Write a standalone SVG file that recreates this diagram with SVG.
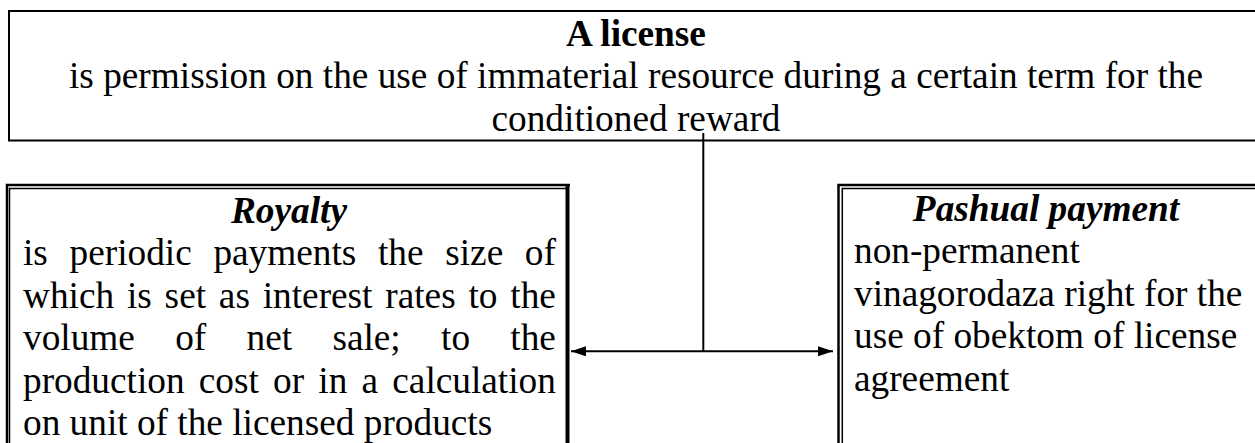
<svg xmlns="http://www.w3.org/2000/svg" width="1255" height="443" viewBox="0 0 1255 443">
<style>
text{font-family:"Liberation Serif","Times New Roman",serif;font-size:37.3px;fill:#000}
.b{font-weight:bold}
.bi{font-weight:bold;font-style:italic}
.c{text-anchor:middle}
.thk{fill:none;stroke:#000;stroke-width:2.5}
.thn{fill:none;stroke:#000;stroke-width:1.5}
.ln{fill:none;stroke:#000;stroke-width:2}
</style>
<defs>
<marker id="ah" viewBox="0 0 15 10" refX="15" refY="5" markerWidth="15" markerHeight="10" markerUnits="userSpaceOnUse" orient="auto-start-reverse">
<path d="M0,0 L15,5 L0,10 z" fill="#000"/>
</marker>
</defs>
<rect width="1255" height="443" fill="#fff"/>
<g id="license">
<rect x="9" y="11" width="1260" height="129.5" fill="none" stroke="#000" stroke-width="2"/>
<text class="b c" x="636" y="45.5">A license</text>
<text class="c" x="636" y="88">is permission on the use of immaterial resource during a certain term for the</text>
<text class="c" x="636" y="130.5">conditioned reward</text>
</g>
<g id="royalty">
<path class="thk" d="M7,445 V185 H570"/>
<path class="thn" d="M9.5,445 V188.5 H566"/>
<path d="M567.5,184 V445" stroke="#000" stroke-width="4" fill="none"/>
<text class="bi c" x="289" y="222.5">Royalty</text>
<text x="23" y="265" word-spacing="12.33">is periodic payments the size of</text>
<text x="23" y="307.5" word-spacing="3.47">which is set as interest rates to the</text>
<text x="23" y="350" word-spacing="30.97">volume of net sale; to the</text>
<text x="23" y="392.5" word-spacing="4.87">production cost or in a calculation</text>
<text x="23" y="435">on unit of the licensed products</text>
</g>
<g id="pashual">
<path class="thk" d="M838.5,445 V185 H1260"/>
<path class="thn" d="M842.3,445 V188.5 H1260"/>
<text class="bi c" x="1046" y="220.5">Pashual payment</text>
<text x="854" y="263">non-permanent</text>
<text x="854" y="305.5">vinagorodaza right for the</text>
<text x="854" y="348">use of obektom of license</text>
<text x="854" y="390.5">agreement</text>
</g>
<g id="connectors">
<path class="ln" d="M703.3,133 V351.3" stroke-width="1.7"/>
<path class="ln" d="M571,351.3 H833" marker-start="url(#ah)" marker-end="url(#ah)"/>
</g>
</svg>
